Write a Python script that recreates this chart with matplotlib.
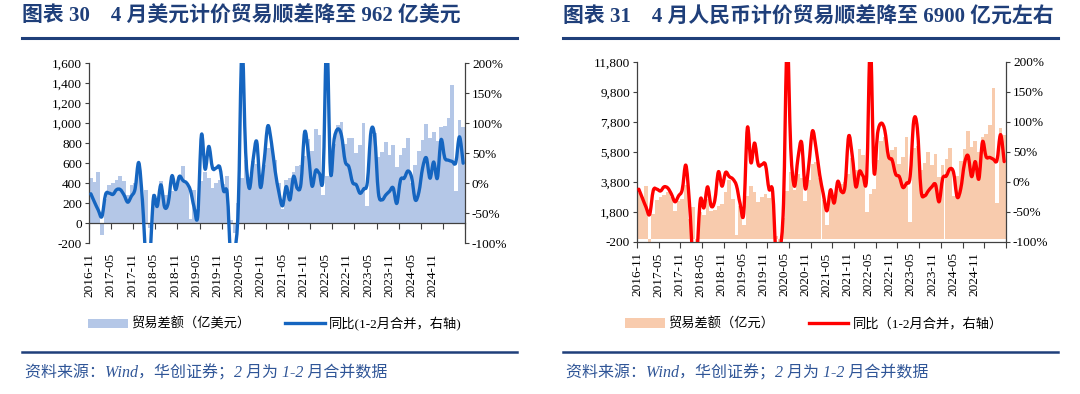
import numpy as np
import matplotlib
matplotlib.use('Agg')
import matplotlib.pyplot as plt
from matplotlib.path import Path
from matplotlib.patches import PathPatch, Patch
from matplotlib.lines import Line2D
from matplotlib.ticker import FuncFormatter, FixedLocator
from matplotlib.font_manager import FontProperties

plt.rcParams['font.family'] = ['Liberation Serif', 'Noto Sans CJK SC']

# monthly data, 2016-11 .. 2025-04
usd_bal = [446, 407, 513, -115, 240, 380, 405, 427, 467, 419, 284, 381,
           402, 547, 203, 334, -50, 287, 249, 416, 280, 279, 317, 340,
           447, 570, 391, 41, 326, 138, 417, 510, 450, 348, 396, 428,
           387, 467, 30, -100, 199, 453, 629, 465, 623, 589, 370, 584,
           754, 781, 630, 400, 138, 428, 455, 515, 566, 583, 667, 845,
           717, 944, 880, 280, 473, 511, 787, 979, 1013, 793, 847, 852,
           698, 781, 1000, 170, 882, 902, 658, 706, 806, 683, 777, 565,
           683, 753, 850, 400, 585, 723, 826, 990, 846, 910, 817, 957,
           974, 1048, 1380, 325, 1027, 962]
usd_yoy = [-18, -32, -45, -56, -19, -17, -19, -11, -11, -20, -32, -22,
           -10, 34, -30, -130, -121, -24, -39, -3, -40, -33, 12, -11,
           11, 4, 0, -12, -40, -55, 80, 23, 61, 25, 25, 26,
           -13, -18, -130, -116, -39, 228, 51, -9, 38, 69, -7, 36,
           95, 67, 20, -15, -38, -6, -28, 11, -9, -1, 85, 50,
           -5, 21, 16, 12, 243, 19, 73, 90, 79, 36, 27, 1,
           -3, -17, -10, 1, 86, 77, -16, -28, -20, -14, -8, -34,
           5, 8, 20, 10, -28, -15, 25, 42, 8, 35, 8, 72,
           42, 38, 36, 34, 77, 33]
rmb_bal = [3050, 2820, 3530, -630, 1650, 2620, 2780, 2900, 3160, 2790, 1860, 2530,
           2660, 3600, 1310, 2110, -320, 1810, 1590, 2680, 1880, 1910, 2170, 2350,
           3100, 3920, 2650, 280, 2190, 930, 2860, 3520, 3100, 2460, 2800, 3030,
           2720, 3270, 210, -700, 1400, 3200, 4470, 3290, 4360, 4080, 2520, 3920,
           4980, 5110, 4080, 2580, 900, 2790, 2930, 3310, 3670, 3780, 4310, 5420,
           4580, 6010, 5600, 1780, 3000, 3300, 5290, 6560, 6830, 5380, 5920, 6130,
           5000, 5450, 6780, 1160, 6090, 6210, 4600, 5070, 5800, 4940, 5670, 4130,
           4920, 5360, 6090, 2880, 4210, 5230, 5980, 7190, 6140, 6510, 5780, 6800,
           7010, 7620, 10070, 2370, 7400, 6900]
rmb_yoy = [-12, -27, -42, -54, -14, -12, -15, -8, -10, -20, -33, -23,
           -13, 28, -35, -130, -121, -30, -43, -8, -40, -31, 17, -7,
           16, 9, 5, -6, -36, -52, 90, 32, 65, 29, 29, 29,
           -12, -16, -130, -116, -36, 235, 56, -7, 40, 66, -11, 29,
           85, 56, 12, -20, -48, -13, -35, 1, -16, -7, 76, 44,
           -8, 18, 10, 10, 234, 18, 81, 98, 86, 43, 37, 13,
           9, -9, -2, 9, 102, 89, -13, -23, -15, -8, -4, -33,
           6, 10, 22, 16, -25, -11, 30, 44, 9, 34, 5, 67,
           42, 41, 38, 36, 79, 34]

tick_labels = ['2016-11', '2017-05', '2017-11', '2018-05', '2018-11', '2019-05',
               '2019-11', '2020-05', '2020-11', '2021-05', '2021-11', '2022-05',
               '2022-11', '2023-05', '2023-11', '2024-05', '2024-11']

title_l = '图表 30    4 月美元计价贸易顺差降至 962 亿美元'
title_r = '图表 31    4 月人民币计价贸易顺差降至 6900 亿元左右'
source = '资料来源：Wind，华创证券；2 月为 1-2 月合并数据'

W, H = 1080, 394
navy = '#1F3F7A'
axc = '#404040'


def smooth_path(x, y):
    # excel-like smoothed line (catmull-rom as cubic bezier)
    n = len(x)
    verts = [(x[0], y[0])]
    codes = [Path.MOVETO]
    for i in range(n - 1):
        xp, yp = x[max(i - 1, 0)], y[max(i - 1, 0)]
        xn, yn = x[min(i + 2, n - 1)], y[min(i + 2, n - 1)]
        c1 = (x[i] + (x[i + 1] - xp) / 6, y[i] + (y[i + 1] - yp) / 6)
        c2 = (x[i + 1] - (xn - x[i]) / 6, y[i + 1] - (yn - y[i]) / 6)
        verts += [c1, c2, (x[i + 1], y[i + 1])]
        codes += [Path.CURVE4] * 3
    return Path(verts, codes)


def px(l, t, r, b):
    return [l / W, 1 - b / H, (r - l) / W, (b - t) / H]


def panel(rect, bal, yoy, ylim, ystep, bar_c, line_c, at_zero, lab_pad):
    ax = fig.add_axes(rect)
    x = np.arange(len(bal))
    ax.bar(x, bal, width=1.0, color=bar_c, linewidth=0)
    ax.set_xlim(-0.5, len(bal) - 0.5)
    ax.set_ylim(*ylim)
    ax.set_yticks(np.arange(ylim[0], ylim[1] + 1, ystep))
    ax.yaxis.set_major_formatter(FuncFormatter(lambda v, p: f'{v:,.0f}'))
    for s in ['top', 'right']:
        ax.spines[s].set_visible(False)
    for s in ['left', 'bottom']:
        ax.spines[s].set_color(axc)
        ax.spines[s].set_linewidth(0.9)
    if at_zero:
        ax.spines['bottom'].set_position(('data', 0))
    ax.xaxis.set_major_locator(FixedLocator(np.arange(-0.5, len(bal), 6)))
    ax.xaxis.set_major_formatter(FuncFormatter(lambda v, p: ''))
    ax.xaxis.set_minor_locator(FixedLocator(-0.45 + 5.82 * np.arange(len(tick_labels))))
    ax.set_xticklabels(tick_labels, minor=True, rotation=90)
    ax.tick_params(axis='x', which='major', direction='out', length=4, color=axc)
    ax.tick_params(axis='x', which='minor', length=0, pad=lab_pad, labelsize=9.5)
    ax.tick_params(axis='y', direction='out', length=3, color=axc, labelsize=9.5, pad=2)

    ax2 = ax.twinx()
    ax2.add_patch(PathPatch(smooth_path(x, yoy), fill=False, edgecolor=line_c,
                            lw=2.4, joinstyle='round', capstyle='round'))
    ax2.set_ylim(-100, 200)
    ax2.set_yticks(np.arange(-100, 201, 50))
    ax2.yaxis.set_major_formatter(FuncFormatter(lambda v, p: f'{v:.0f}%'))
    for s in ['top', 'left', 'bottom']:
        ax2.spines[s].set_visible(False)
    ax2.spines['right'].set_color(axc)
    ax2.spines['right'].set_linewidth(0.9)
    ax2.tick_params(axis='y', direction='out', length=3, color=axc, labelsize=9.5, pad=2)
    return ax


fig = plt.figure(figsize=(W / 100, H / 100), dpi=100)

axl = panel(px(89, 63, 465, 243), usd_bal, usd_yoy, (-200, 1600), 200,
            '#B4C7E7', '#1565C0', True, 21.5)
axr = panel(px(637, 62, 1006, 242), rmb_bal, rmb_yoy, (-200, 11800), 2000,
            '#F8CBAD', '#FF0000', False, 7.5)

legend_font = FontProperties(family=['Liberation Serif', 'Noto Sans CJK SC'], size=9.5)
for ax, x0, bar_c, line_c, labs in [
        (axl, 88, '#B4C7E7', '#1565C0', ['贸易差额（亿美元）', '同比(1-2月合并，右轴)']),
        (axr, 625, '#F8CBAD', '#FF0000', ['贸易差额（亿元）', '同比（1-2月合并，右轴）'])]:
    handles = [Patch(facecolor=bar_c, linewidth=0), Line2D([], [], color=line_c, lw=2.4)]
    ax.legend(handles, labs, loc='center left', bbox_to_anchor=(x0 / W, 1 - 324 / H),
              bbox_transform=fig.transFigure, ncol=2, frameon=False, handlelength=3.0,
              handleheight=0.75, handletextpad=0.3, columnspacing=2.6, borderpad=0,
              borderaxespad=0, prop=legend_font)

# titles, rules and source notes
for x0, x1, title in [(22, 517, title_l), (563, 1058, title_r)]:
    fig.text(x0 / W, 1 - 17 / H, title, fontsize=15, fontweight='bold', color=navy,
             ha='left', va='center')
    fig.add_artist(Line2D([x0 / W, x1 / W], [1 - 38 / H] * 2, color=navy, lw=2.2))
    fig.add_artist(Line2D([x0 / W, x1 / W], [1 - 352 / H] * 2, color=navy, lw=1.8))
    fig.text((x0 + 3) / W, 1 - 373 / H, source, fontsize=11.5, style='italic',
             color='#2F5597', ha='left', va='center')

fig.savefig('out.png', dpi=100)
